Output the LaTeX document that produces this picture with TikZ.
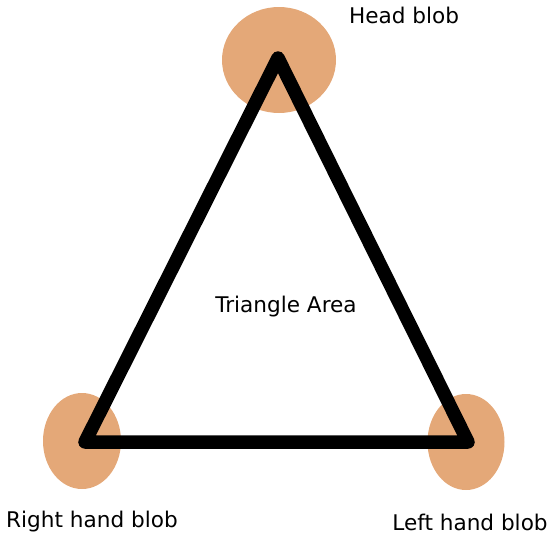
\documentclass[tikz,border=0pt]{standalone}
\usepackage{fontspec}
\setmainfont{DejaVu Sans}
\usetikzlibrary{shapes.geometric}
\definecolor{BlobPeach}{RGB}{228,168,120}
\tikzset{
  blob/.style={ellipse,fill=BlobPeach,draw=none,inner sep=0pt},
  edge/.style={line width=13.5pt,line join=round,line cap=round,draw=black},
  caption/.style={font=\fontsize{21.6}{25}\selectfont,inner sep=0pt}
}
\begin{document}
\begin{tikzpicture}[x=1pt,y=-1pt]
\useasboundingbox (0,0) rectangle (548,538);
\node[blob,minimum width=114pt,minimum height=106pt] (head) at (279,60) {};
\node[blob,minimum width=78pt,minimum height=96pt] (rhand) at (82,441) {};
\node[blob,minimum width=77pt,minimum height=96pt] (lhand) at (466,442) {};

\coordinate (top) at (278,58);
\coordinate (bl) at (85,442);
\coordinate (br) at (468,442);
\draw[edge] (top) -- (bl) -- (br) -- cycle;

\node[caption] (headtxt) at (404,15) {Head blob};
\node[caption] (area) at (286,307) {Triangle Area};
\node[caption] (rtxt) at (92,522) {Right hand blob};
\node[caption] (ltxt) at (470,522) {Left hand blob};
\end{tikzpicture}
\end{document}
